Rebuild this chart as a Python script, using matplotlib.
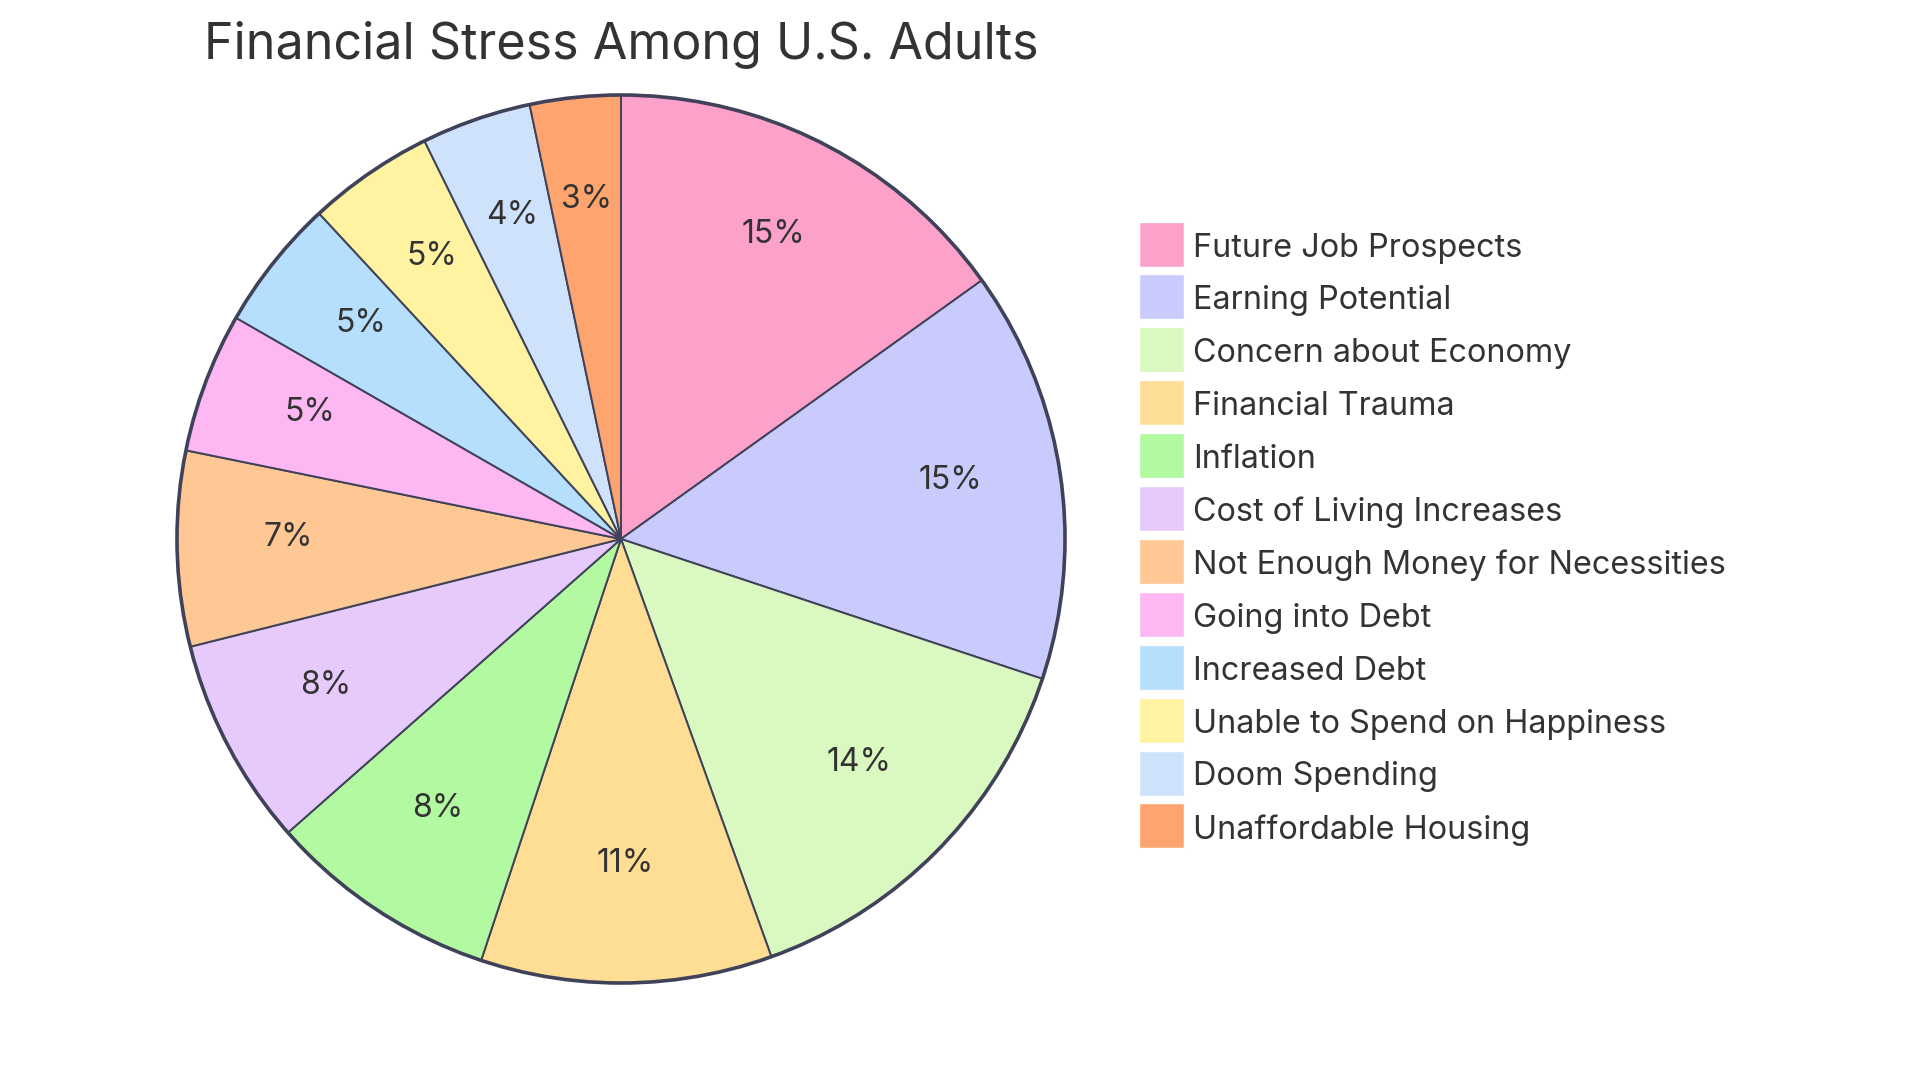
import matplotlib
matplotlib.use("Agg")
import matplotlib.pyplot as plt
from matplotlib.patches import Rectangle, Circle

categories = [
    "Future Job Prospects", "Earning Potential", "Concern about Economy",
    "Financial Trauma", "Inflation", "Cost of Living Increases",
    "Not Enough Money for Necessities", "Going into Debt", "Increased Debt",
    "Unable to Spend on Happiness", "Doom Spending", "Unaffordable Housing",
]
values = [15.1, 15.0, 14.4, 10.6, 8.4, 7.6, 7.1, 5.1, 4.8, 4.6, 4.0, 3.3]
colors = [
    "#FCA1CA", "#C9CBFC", "#DAF9C0", "#FEDE94", "#B3F9A1", "#E6CAFC",
    "#FFC794", "#FDB7F2", "#B5DFFC", "#FFF3A1", "#CEE3FB", "#FEA56F",
]
title = "Financial Stress Among U.S. Adults"

plt.rcParams['font.family'] = ['Inter', 'DejaVu Sans']
W, H = 1920, 1080
fig = plt.figure(figsize=(19.2, 10.8), dpi=100)
fig.patch.set_facecolor("white")

cx, cy, r = 621, 539, 444
ax = fig.add_axes([(cx - r) / W, (H - cy - r) / H, 2 * r / W, 2 * r / H])
edge = "#3F4259"
wedges, texts, autotexts = ax.pie(
    values, colors=colors, startangle=90, counterclock=False,
    autopct=lambda p: f"{p:.0f}%", pctdistance=0.75, radius=1,
    wedgeprops=dict(edgecolor=edge, linewidth=1.4),
    textprops=dict(fontsize=23, color="#333333"),
)
for t in autotexts:
    t.set_va("baseline")
ax.add_patch(Circle((0, 0), 1, fill=False, edgecolor=edge, linewidth=2.6,
                    clip_on=False))
ax.set_xlim(-1, 1)
ax.set_ylim(-1, 1)
ax.set_aspect("equal")
ax.axis("off")

fig.text(cx / W, 1 - 45 / H, title, ha="center", va="center",
         fontsize=36.2, color="#333333")

sq = 45
x0 = 1139
y0 = 244
dy = 52.9
for i, (lab, col) in enumerate(zip(categories, colors)):
    yc = y0 + dy * i
    fig.add_artist(Rectangle((x0 / W, 1 - (yc + sq / 2) / H), sq / W, sq / H,
                             transform=fig.transFigure, facecolor=col,
                             edgecolor="white", linewidth=1))
    fig.text((x0 + sq + 9) / W, 1 - (yc + 4) / H, lab, ha="left", va="center",
             fontsize=23.3, color="#333333")

fig.savefig("out.png", dpi=100)
